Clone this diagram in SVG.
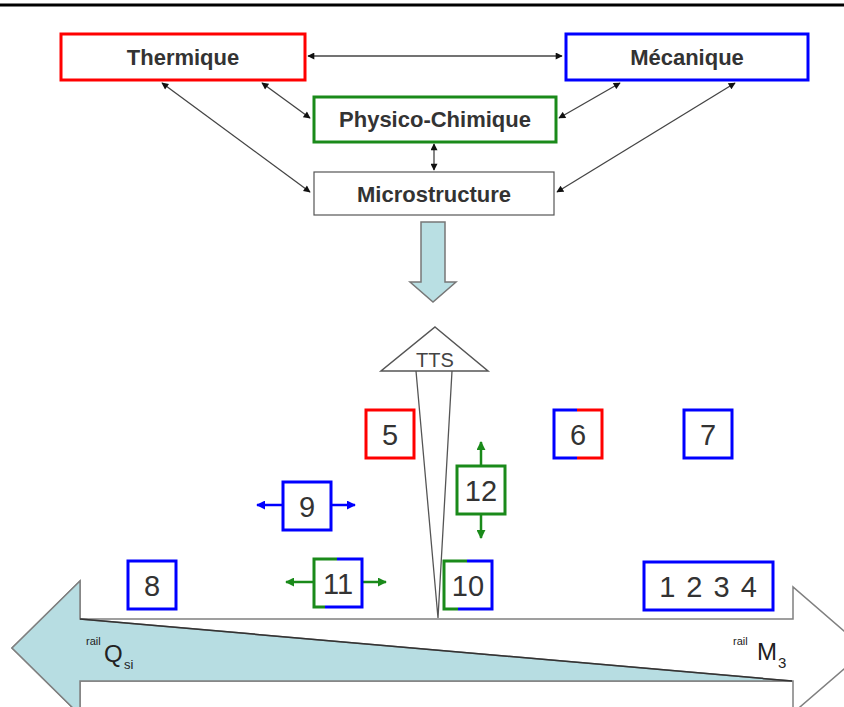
<svg xmlns="http://www.w3.org/2000/svg" width="844" height="707" viewBox="0 0 844 707">
<defs>
<style>
.bx{fill:#fff;stroke-width:3}
.lbl{font-family:"Liberation Sans",Arial,sans-serif;font-weight:bold;font-size:22px;fill:#333;text-anchor:middle}
.num{font-family:"Liberation Sans",Arial,sans-serif;font-size:29px;fill:#333;text-anchor:middle}
.con{stroke:#444;stroke-width:1.3;fill:none;marker-start:url(#ah);marker-end:url(#ah)}
.ga{stroke:#1a8a1a;stroke-width:2.5;fill:none;marker-end:url(#ag)}
.ba{stroke:#0000ff;stroke-width:2.5;fill:none;marker-end:url(#ab)}
.red{stroke:#ff0000}.blue{stroke:#0000ff}.green{stroke:#1a8a1a}
.seg{fill:none;stroke-width:3}
.sm{font-family:"Liberation Sans",Arial,sans-serif;fill:#222}
</style>
<marker id="ah" viewBox="0 0 10 10" refX="9" refY="5" markerWidth="8" markerHeight="7" markerUnits="userSpaceOnUse" orient="auto-start-reverse"><path d="M0,0 L10,5 L0,10 z" fill="#111"/></marker>
<marker id="ag" viewBox="0 0 10 10" refX="9" refY="5" markerWidth="9" markerHeight="9" markerUnits="userSpaceOnUse" orient="auto"><path d="M0,0 L10,5 L0,10 z" fill="#1a8a1a"/></marker>
<marker id="ab" viewBox="0 0 10 10" refX="9" refY="5" markerWidth="9" markerHeight="9" markerUnits="userSpaceOnUse" orient="auto"><path d="M0,0 L10,5 L0,10 z" fill="#0000ff"/></marker>
</defs>
<rect width="844" height="707" fill="#fff"/>
<line x1="0" y1="5" x2="844" y2="5" stroke="#000" stroke-width="3"/>

<g id="connectors">
<line class="con" x1="308" y1="56" x2="562" y2="56"/>
<line class="con" x1="162" y1="83" x2="310" y2="192"/>
<line class="con" x1="262" y1="83" x2="310" y2="118"/>
<line class="con" x1="620" y1="83" x2="559" y2="118"/>
<line class="con" x1="735" y1="83" x2="557" y2="192"/>
<line class="con" x1="434" y1="144" x2="434" y2="170"/>
</g>

<g id="thermique"><rect class="bx red" x="61" y="34" width="244" height="46"/><text class="lbl" x="183" y="65">Thermique</text></g>
<g id="mecanique"><rect class="bx blue" x="566" y="34" width="242" height="46"/><text class="lbl" x="687" y="65">Mécanique</text></g>
<g id="physico"><rect class="bx green" x="314" y="97" width="242" height="45"/><text class="lbl" x="435" y="127">Physico-Chimique</text></g>
<g id="micro"><rect x="314" y="172" width="240" height="43" fill="#fff" stroke="#555" stroke-width="1.2"/><text class="lbl" x="434" y="202">Microstructure</text></g>

<g id="downarrow"><path d="M421,222 H445 V282 H456 L433,302 L410,282 H421 Z" fill="#b9dfe3" stroke="#777" stroke-width="1.5"/></g>

<g id="bigarrow">
<path d="M80,619 H793 V587 L866,650 L793,713 V681 H80 V715 L12,648 L80,581 Z" fill="#fff" stroke="#808080" stroke-width="1.5"/>
<path d="M80,581 L12,648 L80,715 V681 H792 L80,619 Z" fill="#b7dde2" stroke="#808080" stroke-width="1.5"/>
<line x1="80" y1="619" x2="792" y2="681" stroke="#333" stroke-width="1.5"/>
<text class="sm" x="86" y="645" font-size="11">rail</text>
<text class="sm" x="104" y="662" font-size="24">Q</text>
<text class="sm" x="124" y="669" font-size="13">si</text>
<text class="sm" x="733" y="645" font-size="11">rail</text>
<text class="sm" x="757" y="660" font-size="24">M</text>
<text class="sm" x="778" y="668" font-size="15">3</text>
</g>

<g id="tts">
<path d="M435,327 L488,371 L381,371 Z" fill="#fff" stroke="#555" stroke-width="1.5"/>
<path d="M416,371 L438,618 L452,371" fill="none" stroke="#555" stroke-width="1.3"/>
<text x="435" y="367" font-family="Liberation Sans,Arial,sans-serif" font-size="20" fill="#444" text-anchor="middle">TTS</text>
</g>

<g id="n5"><rect class="bx red" x="366" y="410" width="48" height="48"/><text class="num" x="390" y="445">5</text></g>
<g id="n6"><rect x="554" y="410" width="48" height="48" fill="#fff"/>
<path class="seg blue" d="M577,410 H554 V458 H577"/><path class="seg red" d="M577,410 H602 V458 H577"/>
<text class="num" x="578" y="445">6</text></g>
<g id="n7"><rect class="bx blue" x="684" y="410" width="48" height="48"/><text class="num" x="708" y="445">7</text></g>
<g id="n9"><line class="ba" x1="282" y1="505" x2="257" y2="505"/><line class="ba" x1="331" y1="505" x2="355" y2="505"/>
<rect class="bx blue" x="283" y="482" width="48" height="48"/><text class="num" x="307" y="517">9</text></g>
<g id="n12"><line class="ga" x1="481" y1="466" x2="481" y2="442"/><line class="ga" x1="481" y1="514" x2="481" y2="538"/>
<rect class="bx green" x="457" y="466" width="48" height="48"/><text class="num" x="481" y="501">12</text></g>
<g id="n11"><line class="ga" x1="313" y1="582" x2="286" y2="582"/><line class="ga" x1="362" y1="582" x2="386" y2="582"/>
<rect x="314" y="559" width="48" height="48" fill="#fff"/>
<path class="seg green" d="M337,559 H314 V607 H325"/><path class="seg blue" d="M337,559 H362 V607 H325"/>
<text class="num" x="338" y="594">11</text></g>
<g id="n10"><rect x="444" y="561" width="48" height="48" fill="#fff"/>
<path class="seg green" d="M467,561 H444 V609 H458"/><path class="seg blue" d="M467,561 H492 V609 H458"/>
<text class="num" x="468" y="596">10</text></g>
<g id="n8"><rect class="bx blue" x="128" y="561" width="48" height="48"/><text class="num" x="152" y="596">8</text></g>
<g id="n1234"><rect class="bx blue" x="644" y="562" width="129" height="48"/><text class="num" x="708" y="597" word-spacing="3">1 2 3 4</text></g>
</svg>
